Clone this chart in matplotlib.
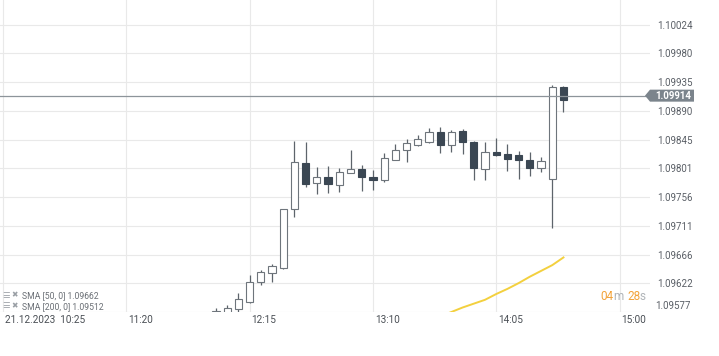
import matplotlib
matplotlib.use("Agg")
import matplotlib.pyplot as plt
from matplotlib.patches import Polygon
from matplotlib.transforms import blended_transform_factory, offset_copy

# 5-minute EUR/USD candles, 21.12.2023, from 12:00 to 14:35
times = ["12:00", "12:05", "12:10", "12:15", "12:20", "12:25", "12:30", "12:35",
         "12:40", "12:45", "12:50", "12:55", "13:00", "13:05", "13:10", "13:15",
         "13:20", "13:25", "13:30", "13:35", "13:40", "13:45", "13:50", "13:55",
         "14:00", "14:05", "14:10", "14:15", "14:20", "14:25", "14:30", "14:35"]
opens = [1.09572, 1.09576, 1.09582, 1.09593, 1.09624, 1.09638, 1.09646, 1.09738,
         1.09809, 1.09778, 1.09788, 1.09775, 1.09794, 1.09800, 1.09788, 1.09783,
         1.09814, 1.09830, 1.09837, 1.09842, 1.09858, 1.09837, 1.09859, 1.09842,
         1.09800, 1.09826, 1.09823, 1.09822, 1.09814, 1.09802, 1.09784, 1.09928]
highs = [1.09584, 1.09588, 1.09607, 1.09635, 1.09643, 1.09652, 1.09738, 1.09844,
         1.09842, 1.09803, 1.09805, 1.09802, 1.09830, 1.09806, 1.09798, 1.09825,
         1.09839, 1.09847, 1.09853, 1.09864, 1.09865, 1.09861, 1.09862, 1.09843,
         1.09842, 1.09848, 1.09839, 1.09828, 1.09826, 1.09819, 1.09931, 1.09929]
lows = [1.09568, 1.09572, 1.09577, 1.09591, 1.09619, 1.09624, 1.09644, 1.09725,
        1.09772, 1.09761, 1.09763, 1.09764, 1.09793, 1.09766, 1.09767, 1.09780,
        1.09813, 1.09811, 1.09836, 1.09841, 1.09825, 1.09826, 1.09823, 1.09783,
        1.09783, 1.09820, 1.09797, 1.09784, 1.09789, 1.09795, 1.09708, 1.09889]
closes = [1.09579, 1.09584, 1.09598, 1.09624, 1.09640, 1.09649, 1.09738, 1.09811,
          1.09777, 1.09788, 1.09777, 1.09795, 1.09800, 1.09788, 1.09783, 1.09817,
          1.09830, 1.09840, 1.09847, 1.09858, 1.09837, 1.09858, 1.09842, 1.09802,
          1.09826, 1.09822, 1.09816, 1.09814, 1.09802, 1.09812, 1.09928, 1.09907]

# SMA 50 (visible part only, SMA 200 is below the chart)
sma_times = ["13:40", "13:45", "13:50", "13:55", "14:00", "14:05", "14:10",
             "14:15", "14:20", "14:25", "14:30", "14:35"]
sma50 = [1.09570, 1.09577, 1.09584, 1.09590, 1.09596, 1.09605, 1.09613,
         1.09622, 1.09632, 1.09641, 1.09650, 1.09662]

current_price = 1.09914
y_ticks = [1.10024, 1.09980, 1.09935, 1.09890, 1.09845, 1.09801,
           1.09756, 1.09711, 1.09666, 1.09622]
y_bottom = 1.09577
y_top = 1.10063
x_tick_times = ["10:25", "11:20", "12:15", "13:10", "14:05", "15:00"]
x_tick_labels = ["21.12.2023  10:25", "11:20", "12:15", "13:10", "14:05", "15:00"]
legend_lines = ["SMA [50, 0] 1.09662", "SMA [200, 0] 1.09512"]

T0 = "10:25"


def minutes(t):
    h, m = t.split(":")
    h0, m0 = T0.split(":")
    return (int(h) * 60 + int(m)) - (int(h0) * 60 + int(m0))


W, H = 719, 356
fig = plt.figure(figsize=(W / 100, H / 100), dpi=100)
ax = fig.add_axes([0, 44 / H, 650 / W, 312 / H])

FONT = "Roboto"
DARK = "#3b4753"
EDGE = "#6e757c"
WICK = "#5d646b"
GRID = "#e9e9e9"
TXT = "#5a5f66"

ax.set_xlim(-1.35, 288.6)
ax.set_ylim(y_bottom, y_top)

for t in x_tick_times:
    ax.axvline(minutes(t), color=GRID, lw=0.8, zorder=0)
for v in y_ticks + [y_bottom]:
    ax.axhline(v, color=GRID, lw=0.8, zorder=0)

# candles
xs = [minutes(t) for t in times]
for x, o, h, l, c in zip(xs, opens, highs, lows, closes):
    ax.vlines(x, l, h, color=WICK, lw=0.9, zorder=2)
    bottom = min(o, c)
    height = max(abs(c - o), 0.000012)
    if c >= o:
        ax.bar(x, height, bottom=bottom, width=3.2, color="white",
               edgecolor=EDGE, linewidth=0.8, zorder=3)
    else:
        ax.bar(x, height, bottom=bottom, width=3.2, color=DARK,
               edgecolor=DARK, linewidth=0.8, zorder=3)

ax.plot([minutes(t) for t in sma_times], sma50, color="#f3d03e", lw=1.4, zorder=4)

ax.axhline(current_price, color="#8d949a", lw=0.9, zorder=5)

for s in ax.spines.values():
    s.set_visible(False)
ax.set_xticks([])
ax.yaxis.tick_right()
ax.set_yticks(y_ticks)
ax.set_yticklabels([f"{v:.5f}" for v in y_ticks], fontfamily=FONT, fontsize=7, color=TXT)
ax.tick_params(axis="y", length=0, pad=5)

# last y label sits on the bottom edge
ax.text(1.0, y_bottom, f"{y_bottom:.5f}",
        transform=offset_copy(blended_transform_factory(ax.transAxes, ax.transData),
                              fig=fig, x=5, y=1, units="dots"),
        ha="left", va="bottom", fontfamily=FONT, fontsize=7, color=TXT)

# x labels, left aligned just after the grid lines
tr = offset_copy(blended_transform_factory(ax.transData, ax.transAxes),
                 fig=fig, x=2, y=-8, units="dots")
for t, lab in zip(x_tick_times, x_tick_labels):
    ax.text(minutes(t), 0, lab, transform=tr, ha="left", va="center",
            fontfamily=FONT, fontsize=7.2, color="#4a4f55", clip_on=False)

# current price tag
py = ax.transData.transform((0, current_price))[1]
tag = Polygon([(645, py), (650, py + 6), (694, py + 6), (694, py - 6), (650, py - 6)],
              closed=True, transform=None, facecolor="#7b848c", edgecolor="none", zorder=6)
fig.patches.append(tag)
fig.text(655 / W, py / H, f"{current_price:.5f}", ha="left", va="center",
         fontfamily=FONT, fontsize=7, color="white", fontweight="bold", zorder=20)

# legend of the indicators
for i, line in enumerate(legend_lines):
    yy = (356 - 295 - i * 11) / H
    fig.text(2 / W, yy, "\u2630", ha="left", va="center", fontsize=6,
             color="#9a9fa5", family="DejaVu Sans")
    fig.text(11 / W, yy, "\u2716", ha="left", va="center", fontsize=5.5,
             color="#9a9fa5", family="DejaVu Sans")
    fig.text(22 / W, yy - 1 / H, line, ha="left", va="center", fontsize=6.2,
             color="#6a6f75", family=FONT)

# countdown to candle close
cy = (356 - 296) / H
for xpx, s, col in [(600, "04", "#f2a33a"), (613, "m", "#b0b4b8"),
                    (627, "28", "#f2a33a"), (640, "s", "#b0b4b8")]:
    fig.text(xpx / W, cy, s, ha="left", va="center", fontsize=8.5,
             color=col, family=FONT)

fig.savefig("out.png", dpi=100)
